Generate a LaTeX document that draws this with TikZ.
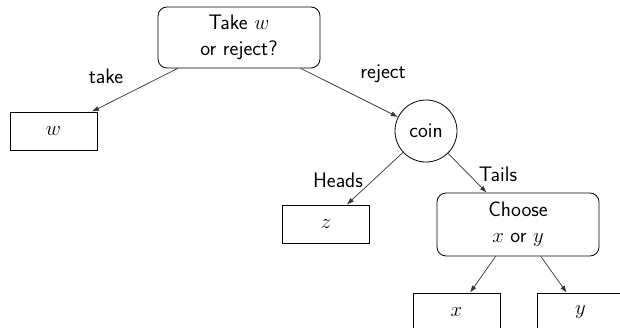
\documentclass[tikz,border=0pt]{standalone}
\usepackage{fontspec}
\usetikzlibrary{arrows.meta}
\begin{document}
\begin{tikzpicture}[x=1pt,y=-1pt,
  every node/.style={font=\sffamily\fontsize{21}{26}\selectfont, text=black},
  leaf/.style={draw, line width=0.8pt, minimum width=87pt, minimum height=38pt, inner sep=0pt},
  decision/.style={draw, line width=0.8pt, rounded corners=9pt, align=center, inner sep=0pt},
  chance/.style={draw, circle, line width=0.8pt, minimum size=62pt, inner sep=0pt},
  edge/.style={line width=0.7pt, draw=black!80, -{Latex[length=7pt,width=5pt]}},
  lbl/.style={inner sep=0pt}]
\useasboundingbox (0,0) rectangle (620,328);
\clip (0,0) rectangle (620,328);
\node[decision, minimum width=162pt, minimum height=61pt] (top) at (239,37.5) {Take $w$\\or reject?};
\node[leaf] (w) at (53.5,131) {$w$};
\node[chance] (coin) at (426,131) {coin};
\node[leaf] (z) at (326,224) {$z$};
\node[decision, minimum width=162pt, minimum height=63pt] (choose) at (518,224.5) {Choose\\$x$ or $y$};
\node[leaf] (x) at (456.5,312) {$x$};
\node[leaf] (y) at (580.5,312) {$y$};
\draw[edge] (top) -- (w);
\draw[edge] (top) -- (coin);
\draw[edge] (coin) -- (z);
\draw[edge] (coin) -- (choose);
\draw[edge] (choose) -- (x);
\draw[edge] (choose) -- (y);
\node[lbl] (ltake) at (106,76) {take};
\node[lbl] (lreject) at (383,74) {reject};
\node[lbl] (lheads) at (338,180) {Heads};
\node[lbl] (ltails) at (498,174) {Tails};
\end{tikzpicture}
\end{document}
